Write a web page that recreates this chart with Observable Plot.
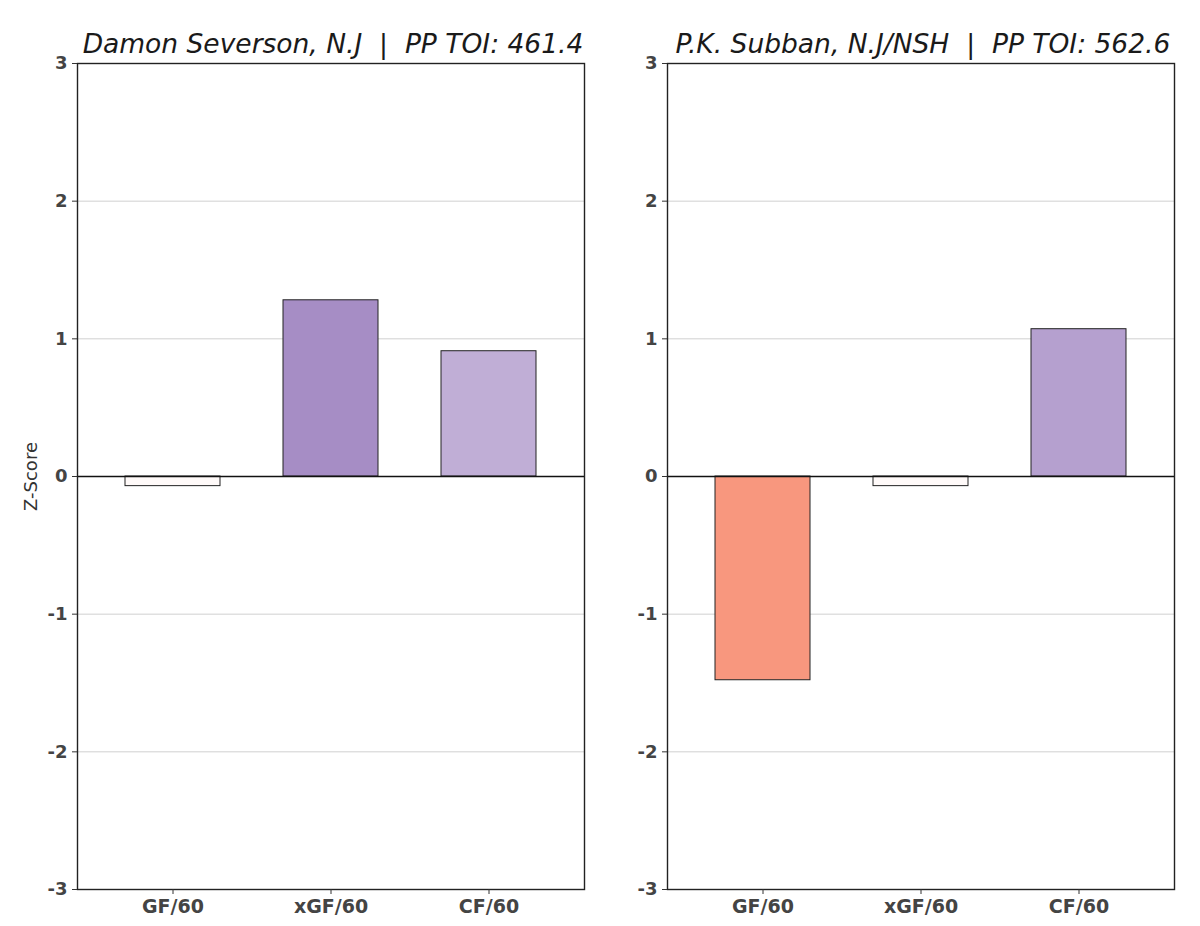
<!DOCTYPE html>
<html>
<head>
<meta charset="utf-8">
<script src="https://cdn.jsdelivr.net/npm/d3@7"></script>
<script src="https://cdn.jsdelivr.net/npm/@observablehq/plot@0.6"></script>
<style>
  html, body { margin: 0; padding: 0; background: #fff; }
  #wrap { position: relative; width: 1200px; height: 926px; }
  #wrap > div { position: absolute; top: 0; }
</style>
</head>
<body>
<div id="wrap"><div id="left" style="left:0"></div><div id="right" style="left:600px"></div></div>
<script>
// Power-play z-scores per 60 minutes for two defencemen
const metrics = ["GF/60", "xGF/60", "CF/60"];
const seversonZ = [-0.07, 1.28, 0.91];
const subbanZ = [-1.48, -0.07, 1.07];
const titles = [
  "Damon Severson, N.J  |  PP TOI: 461.4",
  "P.K. Subban, N.J/NSH  |  PP TOI: 562.6"
];
const yTicks = [-3, -2, -1, 0, 1, 2, 3];

function panel(values, title, {marginLeft, marginRight, showLabel}) {
  const rows = metrics.map((m, i) => ({metric: m, z: values[i]}));
  return Plot.plot({
    width: 600,
    height: 926,
    marginTop: 63,
    marginBottom: 37,
    marginLeft,
    marginRight,
    style: {fontFamily: "DejaVu Sans, sans-serif", background: "#fff"},
    x: {domain: metrics, paddingInner: 0.4, paddingOuter: 0.3},
    y: {domain: [-3, 3]},
    color: {
      type: "linear",
      domain: [-2.5, 0, 2.5],
      range: ["rgb(243,79,37)", "#ffffff", "rgb(82,32,142)"],
      interpolate: "rgb",
      clamp: true
    },
    marks: [
      Plot.gridY(yTicks.filter(d => d !== 0 && Math.abs(d) !== 3), {stroke: "#d0d0d0", strokeOpacity: 1, strokeWidth: 1}),
      Plot.barY(rows, {x: "metric", y: "z", fill: "z", stroke: "#222", strokeWidth: 1}),
      Plot.ruleY([0], {stroke: "#111", strokeWidth: 1.4}),
      Plot.frame({stroke: "#222", strokeWidth: 1.4}),
      Plot.axisY(yTicks, {
        tickSize: 5, tickPadding: 5, tickFormat: d => String(d),
        fontSize: 18, fontWeight: "bold", fill: "#444", stroke: "#333",
        label: showLabel ? "Z-Score" : null,
        labelAnchor: "center", labelArrow: "none", labelOffset: 53
      }),
      Plot.axisX({
        tickSize: 5, tickPadding: 5, fontSize: 19, fontWeight: "bold",
        fill: "#444", stroke: "#333", label: null
      }),
      Plot.text([title], {
        frameAnchor: "top", lineAnchor: "bottom", dy: -11, dx: 2,
        fontSize: 26.5, fontStyle: "italic", fill: "#1a1a1a"
      })
    ]
  });
}

const leftSvg = panel(seversonZ, titles[0], {marginLeft: 77, marginRight: 16, showLabel: true});
const rightSvg = panel(subbanZ, titles[1], {marginLeft: 67, marginRight: 26, showLabel: false});
// the y-axis title is set in regular weight
leftSvg.querySelectorAll("[aria-label='y-axis label'] text, [aria-label='y-axis label']").forEach(el => {
  el.setAttribute("font-weight", "normal");
  el.setAttribute("font-size", "18");
  el.setAttribute("fill", "#333");
});
document.getElementById("left").appendChild(leftSvg);
document.getElementById("right").appendChild(rightSvg);
</script>
</body>
</html>
